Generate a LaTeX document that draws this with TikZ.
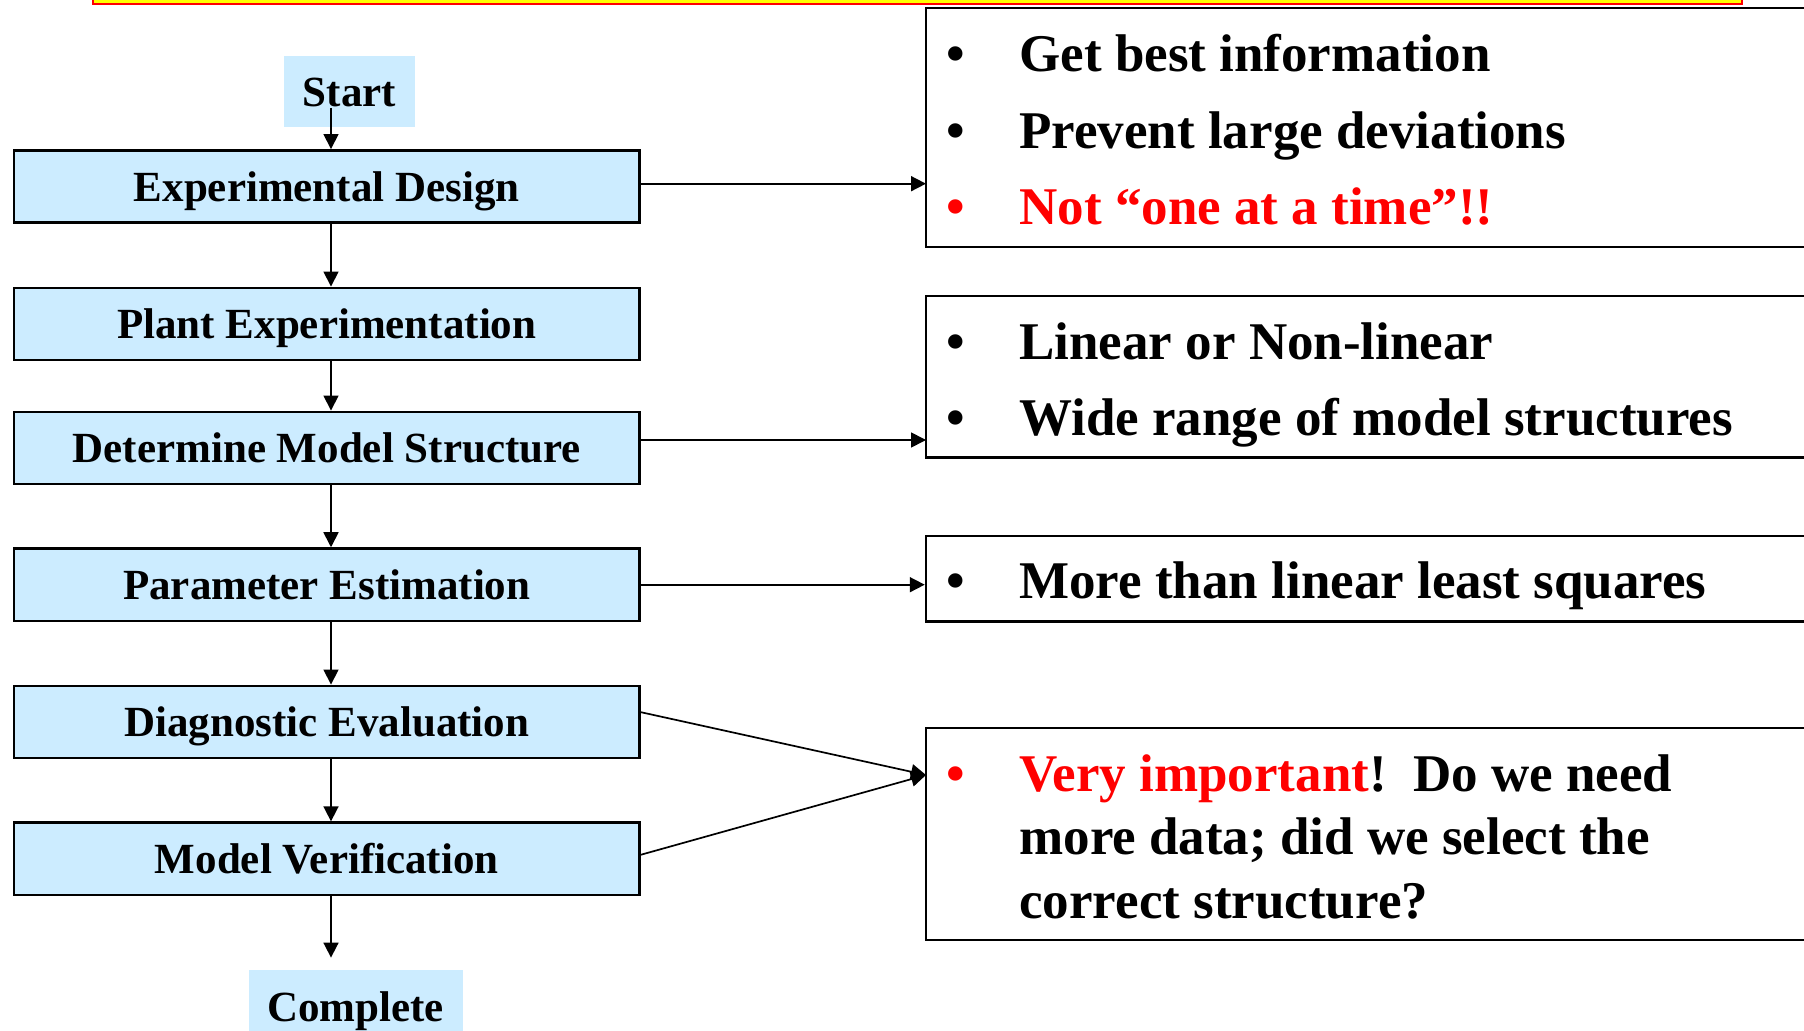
\documentclass[tikz,border=0pt]{standalone}
\usepackage{fontspec}
\setmainfont{Liberation Serif}
\usetikzlibrary{arrows.meta,calc}
\definecolor{boxblue}{HTML}{CCECFF}
\definecolor{pred}{HTML}{FF0000}
\definecolor{pyel}{HTML}{FFFF00}
\begin{document}
\begin{tikzpicture}[x=0.5pt,y=-0.5pt,
  flow/.style={draw=black,line width=1.25pt,fill=boxblue,minimum width=312.9pt,minimum height=36.2pt,inner sep=0pt,
    text height=14.8pt,text depth=0pt,font=\fontsize{21.5}{25}\selectfont\bfseries},
  term/.style={fill=boxblue,inner sep=0pt,text height=14.8pt,text depth=0pt,font=\fontsize{21.5}{25}\selectfont\bfseries},
  note/.style={draw=black,line width=1.25pt,inner sep=0pt,minimum width=452pt},
  bul/.style={anchor=base,inner sep=0pt,font=\fontsize{26.5}{32}\selectfont\bfseries},
  ntext/.style={anchor=base west,inner sep=0pt,font=\fontsize{26.5}{32}\selectfont\bfseries},
  arr/.style={line width=0.85pt,-{Triangle[length=7.5pt,width=7.5pt]}}
]
\clip (0,0) rectangle (1804,1031);
\fill[white] (0,0) rectangle (1804,1031);
% top banner edge
\draw[draw=pred,line width=1pt,fill=pyel] (93,-40) rectangle (1742,4);

% flow column
\node[term,minimum width=65.5pt,minimum height=35.5pt] (start) at (349.5,91.5) {Start};
\node[flow] (expd) at (326.75,186.5) {Experimental Design};
\node[flow] (plant) at (326.75,324) {Plant Experimentation};
\node[flow] (detm) at (326.75,448) {Determine Model Structure};
\node[flow] (param) at (326.75,584.7) {Parameter Estimation};
\node[flow] (diag) at (326.75,722) {Diagnostic Evaluation};
\node[flow] (mver) at (326.75,858.8) {Model Verification};
\node[term,minimum width=107pt,minimum height=37pt] (compl) at (355.5,1007) {Complete};

\coordinate (ax) at (331,0);
\coordinate (s0) at (331,108);
\draw[arr] (s0) -- (expd.north -| ax);
\draw[arr] (expd.south -| ax) -- (plant.north -| ax);
\draw[arr] (plant.south -| ax) -- (detm.north -| ax);
\draw[arr] (detm.south -| ax) -- (param.north -| ax);
\draw[arr] (param.south -| ax) -- (diag.north -| ax);
\draw[arr] (diag.south -| ax) -- (mver.north -| ax);
\draw[arr,shorten >=6pt] (mver.south -| ax) -- (compl.north -| ax);

% note boxes
\node[note,minimum height=119.5pt] (n1) at (1378,127.5) {};
\node[note,minimum height=80.8pt] (n2) at (1378,376.7) {};
\node[note,minimum height=42.8pt] (n3) at (1378,578.8) {};
\node[note,minimum height=106pt] (n4) at (1378,834) {};

% note texts
\node[bul] (b11) at (955.5,72) {•};
\node[ntext] (t11) at (1019,72) {Get best information};
\node[bul] (b12) at (955.5,148.5) {•};
\node[ntext] (t12) at (1019,148.5) {Prevent large deviations};
\node[bul,text=pred] (b13) at (955.5,225) {•};
\node[ntext,text=pred] (t13) at (1019,225) {Not “one at a time”!!};

\node[bul] (b21) at (955.5,360) {•};
\node[ntext] (t21) at (1019,360) {Linear or Non-linear};
\node[bul] (b22) at (955.5,436) {•};
\node[ntext] (t22) at (1019,436) {Wide range of model structures};

\node[bul] (b31) at (955.5,599) {•};
\node[ntext] (t31) at (1019,599) {More than linear least squares};

\node[bul,text=pred] (b41) at (955.5,791) {•};
\node[ntext] (t41) at (1019,791) {\textcolor{pred}{Very important}!\ \ Do we need};
\node[ntext] (t42) at (1019,854.5) {more data; did we select the};
\node[ntext] (t43) at (1019,918) {correct structure?};

% connectors to notes
\coordinate (e1) at (640,183.7);
\coordinate (f1) at (926,183.7);
\coordinate (e2) at (640,440);
\coordinate (f2) at (926,440);
\coordinate (e4) at (640,712);
\coordinate (e5) at (640,855);
\coordinate (t4) at (926,775);
\draw[arr] (e1) -- (f1);
\draw[arr] (e2) -- (f2);
\draw[arr] (param.east) -- (param.east -| n3.west);
\draw[arr] (e4) -- (t4);
\draw[arr] (e5) -- (t4);
\end{tikzpicture}
\end{document}
